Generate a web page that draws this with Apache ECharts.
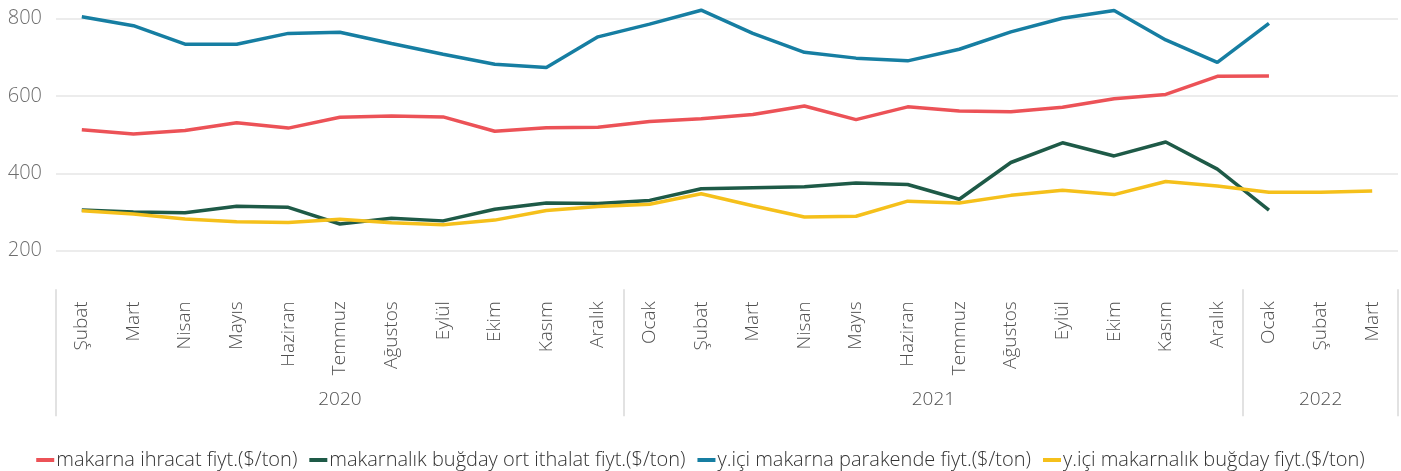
<!DOCTYPE html>
<html>
<head>
<meta charset="utf-8">
<script src="https://cdn.jsdelivr.net/npm/echarts@6/dist/echarts.min.js"></script>
<style>
  html, body { margin: 0; padding: 0; background: #fff; }
  #chart { width: 1401px; height: 471px; }
</style>
</head>
<body>
<div id="chart"></div>
<script>
// aylar (2020 Şubat - 2022 Mart)
var months = ['Şubat', 'Mart', 'Nisan', 'Mayıs', 'Haziran', 'Temmuz', 'Ağustos', 'Eylül', 'Ekim', 'Kasım', 'Aralık',
    'Ocak', 'Şubat', 'Mart', 'Nisan', 'Mayıs', 'Haziran', 'Temmuz', 'Ağustos', 'Eylül', 'Ekim', 'Kasım', 'Aralık',
    'Ocak', 'Şubat', 'Mart'];
var years = ['2020', '2021', '2022'];
var yearMonthCounts = [11, 12, 3];

var ihracat = [513, 502, 511, 531, 517, 545, 548, 546, 509, 518, 519,
    534, 541, 552, 574, 539, 572, 561, 559, 571, 593, 604, 651, 652];
var bugdayIthalat = [305, 300, 298, 315, 312, 269, 284, 277, 307, 323, 322,
    330, 360, 363, 365, 375, 371, 333, 428, 479, 445, 481, 411, 305];
var parakende = [805, 782, 734, 734, 762, 765, 736, 708, 682, 674, 753,
    786, 822, 762, 713, 698, 691, 721, 766, 801, 821, 745, 687, 788];
var bugdayIc = [303, 295, 282, 275, 273, 281, 272, 267, 279, 304, 314,
    320, 347, 316, 287, 289, 328, 323, 343, 356, 345, 379, 367, 351, 351, 354];

var yTicks = [200, 400, 600, 800];

// yıl etiketleri: her yıl grubunun ortası
var yearCenters = [];
var yearBounds = [];
var acc = 0;
for (var i = 0; i < yearMonthCounts.length; i++) {
    yearBounds.push(acc);
    yearCenters.push(acc + yearMonthCounts[i] / 2);
    acc += yearMonthCounts[i];
}

var font = 'Open Sans';
var weight = 300;

function line(name, data, color) {
    return {
        name: name,
        type: 'line',
        data: data,
        symbol: 'none',
        clip: false,
        lineStyle: { width: 3.5, color: color },
        itemStyle: { color: color }
    };
}

var chart = echarts.init(document.getElementById('chart'));
chart.setOption({
    animation: false,
    textStyle: { fontFamily: font, fontWeight: weight },
    grid: { left: 56, right: 3, top: 18.7, bottom: 181.7 },
    legend: {
        bottom: -4,
        left: 'center',
        icon: 'rect',
        itemWidth: 18,
        itemHeight: 4,
        itemGap: 12,
        textStyle: { fontFamily: font, fontWeight: weight, fontSize: 20, color: '#333333', padding: [0, 0, 0, -3] }
    },
    xAxis: [{
        type: 'category',
        data: months,
        boundaryGap: true,
        axisLine: { show: false },
        axisTick: {
            show: true,
            length: 127,
            lineStyle: { color: '#d9d9d9', width: 1.5 },
            interval: function (index) { return yearBounds.indexOf(index) >= 0; }
        },
        axisLabel: {
            interval: 0,
            rotate: 90,
            margin: 12,
            fontSize: 19,
            color: '#505050',
            fontFamily: font,
            fontWeight: weight
        }
    }, {
        type: 'value',
        position: 'bottom',
        min: 0,
        max: acc,
        axisLine: { show: false },
        axisTick: { show: false },
        splitLine: { show: false },
        axisLabel: {
            customValues: yearCenters,
            margin: 101,
            fontSize: 19,
            color: '#505050',
            fontFamily: font,
            fontWeight: weight,
            formatter: function (v) {
                var k = yearCenters.indexOf(v);
                return k >= 0 ? years[k] : '';
            }
        }
    }],
    yAxis: {
        type: 'value',
        min: 100,
        max: 800,
        interval: 100,
        axisLine: { show: false },
        axisTick: { show: false },
        splitLine: { lineStyle: { color: ['rgba(0,0,0,0)', '#e6e6e6'], width: 1.5 } },
        axisLabel: {
            margin: 14,
            fontSize: 20,
            color: '#6e6e6e',
            fontFamily: font,
            fontWeight: weight,
            formatter: function (v) { return yTicks.indexOf(v) >= 0 ? String(v) : ''; }
        }
    },
    series: [
        line('makarna ihracat fiyt.($/ton)', ihracat, '#ec5257'),
        line('makarnalık buğday ort ithalat fiyt.($/ton)', bugdayIthalat, '#1e5a47'),
        line('y.içi makarna parakende fiyt.($/ton)', parakende, '#167ea2'),
        line('y.içi makarnalık buğday fiyt.($/ton)', bugdayIc, '#f5c01b')
    ]
});
</script>
</body>
</html>
